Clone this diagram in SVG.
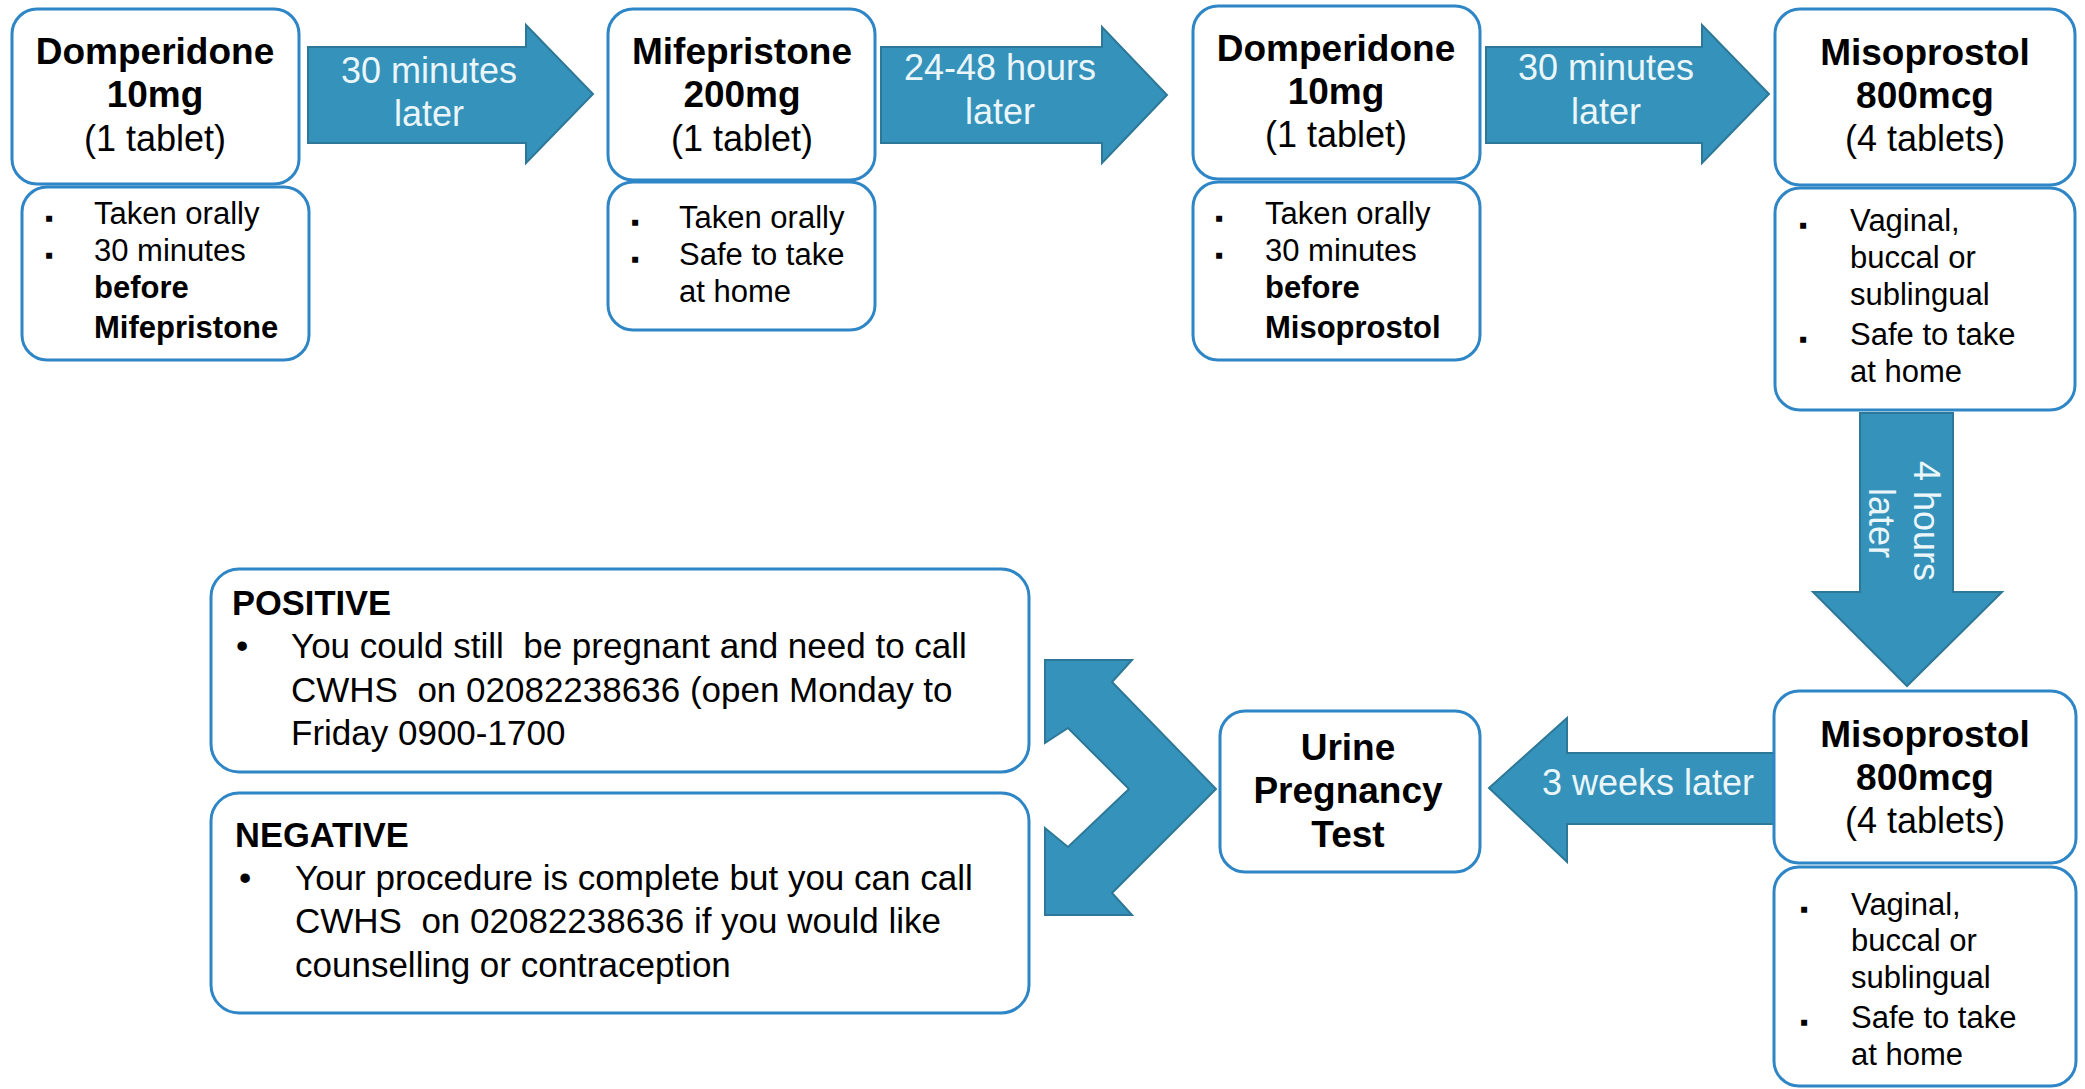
<svg xmlns="http://www.w3.org/2000/svg" width="2085" height="1089" viewBox="0 0 2085 1089">
<style>
text{font-family:"Liberation Sans",Arial,sans-serif;fill:#000}
.box{fill:#fff;stroke:#2F86C6;stroke-width:3}
.arr{fill:#3592BA;stroke:#2D7898;stroke-width:2;stroke-linejoin:miter}
.h{font-size:37px;font-weight:bold;text-anchor:middle}
.n{font-size:36px;text-anchor:middle}
.d{font-size:31px}
.db{font-size:31px;font-weight:bold}
.bl{font-size:24px}
.w{font-size:36px;fill:#EAF6FA;text-anchor:middle}
.p{font-size:35px;white-space:pre}
.pt{font-size:34.5px;font-weight:bold}
</style>
<g id="connectors">
<polygon class="arr" points="308,47 526,47 526,25 593,94 526,163 526,143 308,143"/>
<text class="w" x="429" y="83">30 minutes</text>
<text class="w" x="429" y="126">later</text>
<polygon class="arr" points="881,47 1102,47 1102,27 1167,95 1102,163 1102,143 881,143"/>
<text class="w" x="1000" y="80">24-48 hours</text>
<text class="w" x="1000" y="124">later</text>
<polygon class="arr" points="1486,47 1702,47 1702,25 1769,94 1702,163 1702,143 1486,143"/>
<text class="w" x="1606" y="80">30 minutes</text>
<text class="w" x="1606" y="124">later</text>
<polygon class="arr" points="1860,413 1953,413 1953,592 2002,592 1907,686 1813,592 1860,592"/>
<text class="w" transform="translate(1914,521) rotate(90)">4 hours</text>
<text class="w" transform="translate(1869,523) rotate(90)">later</text>
<polygon class="arr" points="1774,753 1567,753 1567,718 1489,788 1567,862 1567,824 1774,824"/>
<text class="w" x="1648" y="795">3 weeks later</text>
<polygon class="arr" points="1045,660 1132,660 1112,682 1216,789 1112,893 1132,915 1045,915 1045,828 1068,847 1129,789 1068,728 1045,743"/>
</g>
<g id="domperidone1">
<rect class="box" x="12" y="9" width="287" height="175" rx="25"/>
<text class="h" x="155" y="64">Domperidone</text>
<text class="h" x="155" y="107">10mg</text>
<text class="n" x="155" y="151">(1 tablet)</text>
</g>
<g id="domperidone1-details">
<rect class="box" x="22" y="187" width="287" height="173" rx="25"/>
<text class="bl" x="45" y="226">▪</text>
<text class="d" x="94" y="224">Taken orally</text>
<text class="bl" x="45" y="263">▪</text>
<text class="d" x="94" y="261">30 minutes</text>
<text class="db" x="94" y="298">before</text>
<text class="db" x="94" y="338">Mifepristone</text>
</g>
<g id="mifepristone">
<rect class="box" x="608" y="9" width="267" height="171" rx="25"/>
<text class="h" x="742" y="64">Mifepristone</text>
<text class="h" x="742" y="107">200mg</text>
<text class="n" x="742" y="151">(1 tablet)</text>
</g>
<g id="mifepristone-details">
<rect class="box" x="608" y="182" width="267" height="148" rx="25"/>
<text class="bl" x="631" y="230">▪</text>
<text class="d" x="679" y="228">Taken orally</text>
<text class="bl" x="631" y="267">▪</text>
<text class="d" x="679" y="265">Safe to take</text>
<text class="d" x="679" y="302">at home</text>
</g>
<g id="domperidone2">
<rect class="box" x="1193" y="6" width="287" height="173" rx="25"/>
<text class="h" x="1336" y="61">Domperidone</text>
<text class="h" x="1336" y="104">10mg</text>
<text class="n" x="1336" y="147">(1 tablet)</text>
</g>
<g id="domperidone2-details">
<rect class="box" x="1193" y="182" width="287" height="178" rx="25"/>
<text class="bl" x="1215" y="226">▪</text>
<text class="d" x="1265" y="224">Taken orally</text>
<text class="bl" x="1215" y="263">▪</text>
<text class="d" x="1265" y="261">30 minutes</text>
<text class="db" x="1265" y="298">before</text>
<text class="db" x="1265" y="338">Misoprostol</text>
</g>
<g id="misoprostol1">
<rect class="box" x="1775" y="9" width="300" height="176" rx="25"/>
<text class="h" x="1925" y="65">Misoprostol</text>
<text class="h" x="1925" y="108">800mcg</text>
<text class="n" x="1925" y="151">(4 tablets)</text>
</g>
<g id="misoprostol1-details">
<rect class="box" x="1775" y="188" width="300" height="222" rx="25"/>
<text class="bl" x="1799" y="233">▪</text>
<text class="d" x="1850" y="231">Vaginal,</text>
<text class="d" x="1850" y="268">buccal or</text>
<text class="d" x="1850" y="305">sublingual</text>
<text class="bl" x="1799" y="347">▪</text>
<text class="d" x="1850" y="345">Safe to take</text>
<text class="d" x="1850" y="382">at home</text>
</g>
<g id="misoprostol2">
<rect class="box" x="1774" y="691" width="302" height="172" rx="25"/>
<text class="h" x="1925" y="747">Misoprostol</text>
<text class="h" x="1925" y="790">800mcg</text>
<text class="n" x="1925" y="833">(4 tablets)</text>
</g>
<g id="misoprostol2-details">
<rect class="box" x="1774" y="867" width="302" height="219" rx="25"/>
<text class="bl" x="1800" y="917">▪</text>
<text class="d" x="1851" y="915">Vaginal,</text>
<text class="d" x="1851" y="951">buccal or</text>
<text class="d" x="1851" y="988">sublingual</text>
<text class="bl" x="1800" y="1030">▪</text>
<text class="d" x="1851" y="1028">Safe to take</text>
<text class="d" x="1851" y="1065">at home</text>
</g>
<g id="urine-test">
<rect class="box" x="1220" y="711" width="260" height="161" rx="25"/>
<text class="h" x="1348" y="760">Urine</text>
<text class="h" x="1348" y="803">Pregnancy</text>
<text class="h" x="1348" y="847">Test</text>
</g>
<g id="positive">
<rect class="box" x="211" y="569" width="818" height="203" rx="28"/>
<text class="pt" x="232" y="615">POSITIVE</text>
<text class="p" x="236" y="658">•</text>
<text class="p" x="291" y="658">You could still  be pregnant and need to call</text>
<text class="p" x="291" y="702">CWHS  on 02082238636 (open Monday to</text>
<text class="p" x="291" y="745">Friday 0900-1700</text>
</g>
<g id="negative">
<rect class="box" x="211" y="793" width="818" height="220" rx="28"/>
<text class="pt" x="235" y="847">NEGATIVE</text>
<text class="p" x="239" y="890">•</text>
<text class="p" x="295" y="890">Your procedure is complete but you can call</text>
<text class="p" x="295" y="933">CWHS  on 02082238636 if you would like</text>
<text class="p" x="295" y="977">counselling or contraception</text>
</g>
</svg>
